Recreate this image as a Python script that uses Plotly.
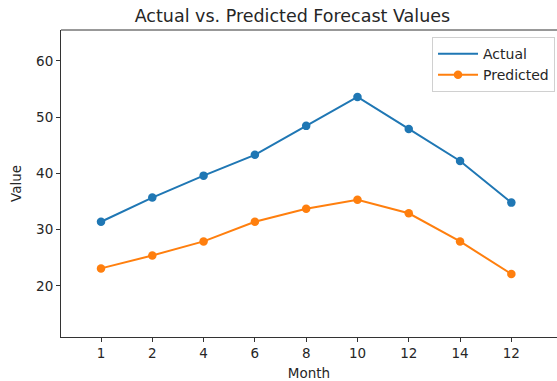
import plotly.graph_objects as go

months = ["1", "2", "4", "6", "8", "10", "12", "14", "12"]
actual = [31.4, 35.7, 39.6, 43.3, 48.45, 53.6, 47.9, 42.2, 34.8]
predicted = [23.1, 25.4, 27.9, 31.4, 33.7, 35.3, 32.9, 27.9, 22.1]

pos = list(range(len(months)))
BLUE = "#1f77b4"
ORANGE = "#ff7f0e"
FONT = "DejaVu Sans"

fig = go.Figure()
fig.add_trace(go.Scatter(x=pos, y=actual, mode="lines", name="Actual",
                         line=dict(color=BLUE, width=2), legendgroup="a"))
fig.add_trace(go.Scatter(x=pos, y=actual, mode="markers", name="Actual",
                         marker=dict(color=BLUE, size=8.5), showlegend=False,
                         legendgroup="a"))
fig.add_trace(go.Scatter(x=pos, y=predicted, mode="lines+markers", name="Predicted",
                         line=dict(color=ORANGE, width=2),
                         marker=dict(color=ORANGE, size=8.5)))

fig.update_layout(
    width=557, height=381,
    margin=dict(l=61, r=0, t=30, b=44, autoexpand=False),
    paper_bgcolor="white", plot_bgcolor="white",
    font=dict(family=FONT, size=13.5, color="#262626"),
    title=dict(text="Actual vs. Predicted Forecast Values", x=0.525, xref="container",
               xanchor="center", y=(381 - 16) / 381, yref="container", yanchor="middle",
               font=dict(size=17.5, family=FONT, color="#262626")),
    legend=dict(x=0.996, y=0.977, xanchor="right", yanchor="top",
                bgcolor="rgba(255,255,255,0.8)", bordercolor="#d0d0d0", borderwidth=1,
                font=dict(size=14, family=FONT), itemwidth=40,
                tracegroupgap=0),
    showlegend=True,
    shapes=[dict(type="line", xref="paper", yref="paper", x0=0, x1=1, y0=1, y1=1,
                 line=dict(color="#333", width=1))],
)
fig.update_xaxes(
    range=[-0.78, 8.89], tickmode="array", tickvals=pos, ticktext=months,
    showgrid=False, zeroline=False, showline=True, linecolor="#333", linewidth=1,
    ticks="outside", ticklen=4, tickcolor="#333", automargin=False,
    tickfont=dict(size=13.5),
    title=dict(text="Month", standoff=8, font=dict(size=13.5)),
)
fig.update_yaxes(
    range=[10.9, 65.5], tickvals=[20, 30, 40, 50, 60],
    showgrid=False, zeroline=False, showline=True, linecolor="#333", linewidth=1,
    ticks="outside", ticklen=4, tickcolor="#333", automargin=False,
    tickfont=dict(size=13.5),
    title=dict(text="Value", standoff=11, font=dict(size=13.5)),
)

fig.write_html("out.html", config={"displayModeBar": False},
               post_script="document.body.style.margin='0';document.body.style.overflow='hidden';")
